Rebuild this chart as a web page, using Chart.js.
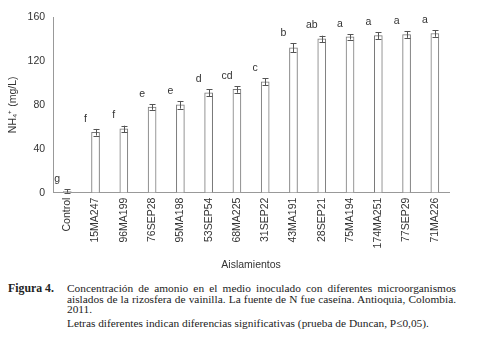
<!DOCTYPE html>
<html>
<head>
<meta charset="utf-8">
<script src="https://cdn.jsdelivr.net/npm/chart.js@4"></script>
<style>
  body { margin: 0; background: #fff; width: 479px; height: 348px; position: relative; overflow: hidden; }
  #wrap { position: absolute; left: 0; top: 0; width: 479px; height: 277px; }
  .cap { position: absolute; font-family: "Liberation Serif", "Times New Roman", serif; font-size: 11.35px; color: #222; line-height: 10.5px; }
  #figLabel { left: 8px; top: 283px; font-weight: bold; font-size: 11.8px; }
  #figText { left: 67px; top: 283px; width: 389px; text-align: justify; }
</style>
</head>
<body>
<div id="wrap"><canvas id="chart" width="479" height="277"></canvas></div>
<div class="cap" id="figLabel">Figura 4.</div>
<div class="cap" id="figText">Concentración de amonio en el medio inoculado con diferentes microorganismos aislados de la rizosfera de vainilla. La fuente de N fue caseína. Antioquia, Colombia. 2011.<br><span style="display:block;margin-top:3px">Letras diferentes indican diferencias significativas (prueba de Duncan, P≤0,05).</span></div>
<script>
const categories = ['Control', '15MA247', '96MA199', '76SEP28', '95MA198', '53SEP54', '68MA225', '31SEP22', '43MA191', '28SEP21', '75MA194', '174MA251', '77SEP29', '71MA226'];
const ammonium = [1, 55, 58, 78, 80, 91, 94, 101, 132, 140, 142, 143, 144, 145];
const errors = [2, 3, 3, 2.5, 3.5, 3, 3, 3, 4, 3, 2.5, 3, 3, 3];
const letters = ['g', 'f', 'f', 'e', 'e', 'd', 'cd', 'c', 'b', 'ab', 'a', 'a', 'a', 'a'];

// barras de error y letras de Duncan
const errorBarsPlugin = {
  id: 'errorBars',
  afterDatasetsDraw(chart) {
    const ctx = chart.ctx;
    const y = chart.scales.y;
    const meta = chart.getDatasetMeta(0);
    ctx.save();
    ctx.strokeStyle = '#555';
    ctx.lineWidth = 1;
    meta.data.forEach((bar, i) => {
      const x = Math.round(bar.x) + 0.5;
      const top = y.getPixelForValue(ammonium[i] + errors[i]);
      const bottom = y.getPixelForValue(Math.max(0, ammonium[i] - errors[i]));
      ctx.beginPath();
      ctx.moveTo(x, top); ctx.lineTo(x, bottom);
      ctx.moveTo(x - 3, Math.round(top) + 0.5); ctx.lineTo(x + 3, Math.round(top) + 0.5);
      ctx.moveTo(x - 3, Math.round(bottom) + 0.5); ctx.lineTo(x + 3, Math.round(bottom) + 0.5);
      ctx.stroke();
      ctx.fillStyle = '#333';
      ctx.font = '10.5px "Liberation Sans", Arial, sans-serif';
      ctx.textAlign = 'center';
      ctx.textBaseline = 'bottom';
      ctx.fillText(letters[i], bar.x - 10, top - 5);
    });
    ctx.restore();
  }
};

new Chart(document.getElementById('chart'), {
  type: 'bar',
  data: {
    labels: categories,
    datasets: [{
      data: ammonium,
      backgroundColor: '#ffffff',
      borderColor: '#777',
      borderWidth: 1,
      barThickness: 8
    }]
  },
  options: {
    responsive: false,
    animation: false,
    layout: { padding: { top: 17, right: 30, left: 3, bottom: 2 } },
    plugins: { legend: { display: false }, tooltip: { enabled: false } },
    scales: {
      x: {
        grid: { display: false, drawTicks: false },
        border: { color: '#999' },
        ticks: { minRotation: 90, maxRotation: 90, autoSkip: false, padding: 5, color: '#333', font: { family: '"Liberation Sans", Arial, sans-serif', size: 10.5 } },
        title: { display: true, text: 'Aislamientos', color: '#333', padding: { top: 5 }, font: { family: '"Liberation Sans", Arial, sans-serif', size: 10.5 } }
      },
      y: {
        min: 0, max: 160,
        grid: { display: false, drawTicks: true, tickLength: 4, color: '#999' },
        border: { color: '#999' },
        ticks: { stepSize: 40, padding: 4, color: '#333', font: { family: '"Liberation Sans", Arial, sans-serif', size: 10.5 } },
        title: { display: true, text: 'NH₄⁺ (mg/L)', color: '#333', padding: { bottom: 4 }, font: { family: '"Liberation Sans", Arial, sans-serif', size: 10.5 } }
      }
    }
  },
  plugins: [errorBarsPlugin]
});
</script>
</body>
</html>
